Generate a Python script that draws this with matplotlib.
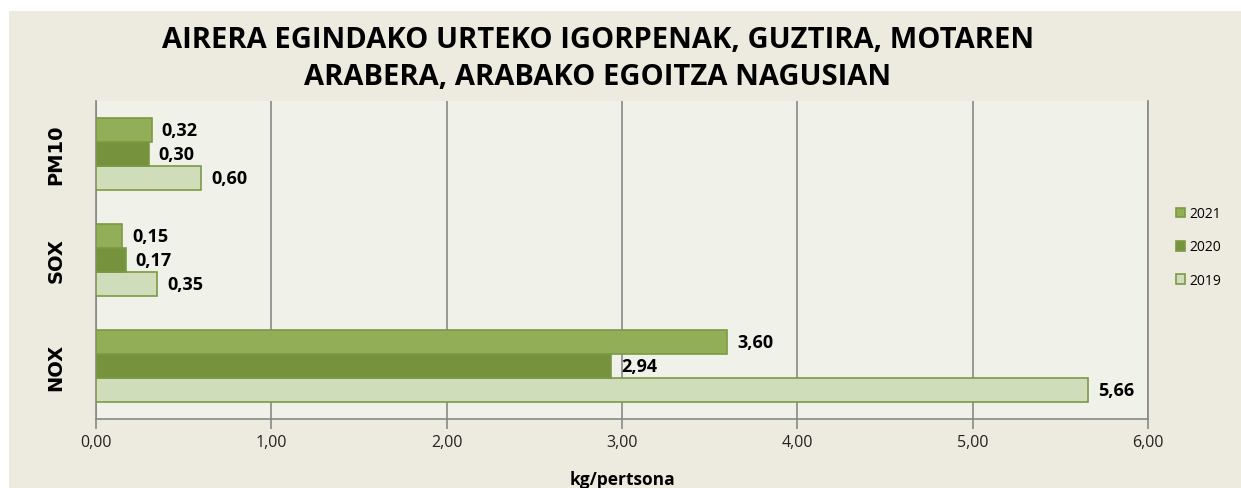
import matplotlib
matplotlib.use("Agg")
import matplotlib.pyplot as plt
from matplotlib.patches import Rectangle
import numpy as np

categories = ["NOX", "SOX", "PM10"]
years = ["2019", "2020", "2021"]
values = {
    "2019": [5.66, 0.35, 0.60],
    "2020": [2.94, 0.17, 0.30],
    "2021": [3.60, 0.15, 0.32],
}
colors = {"2019": "#D0DDBA", "2020": "#76923C", "2021": "#92AE57"}
edge = "#7A9A45"
xticks = [0, 1, 2, 3, 4, 5, 6]
title = "AIRERA EGINDAKO URTEKO IGORPENAK, GUZTIRA, MOTAREN\nARABERA, ARABAKO EGOITZA NAGUSIAN"
xlabel = "kg/pertsona"

W, H = 1241, 489
fig = plt.figure(figsize=(W / 100, H / 100), dpi=100)
fig.patch.set_facecolor("white")
fig.patches.append(Rectangle((9 / W, 0), 1 - 9 / W, 1 - 12 / H, transform=fig.transFigure,
                             facecolor="#EDEAE0", edgecolor="none", zorder=-10))

ax = fig.add_axes([96 / W, 1 - 420 / H, (1148 - 96) / W, (420 - 102) / H])
ax.set_facecolor("#F0F2EA")

h = 0.226
offsets = {"2019": -h, "2020": 0.0, "2021": h}
y = np.arange(len(categories))
for yr in years:
    bars = ax.barh(y + offsets[yr], values[yr], height=h, color=colors[yr],
                   edgecolor=edge, linewidth=1.2, zorder=3, label=yr)
    for b, v in zip(bars, values[yr]):
        ax.annotate(f"{v:.2f}".replace(".", ","), (v, b.get_y() + b.get_height() / 2),
                    xytext=(7, 0), textcoords="offset points", va="center", ha="left",
                    fontsize=13, fontweight="bold", color="black", family="Open Sans")

ax.set_xlim(0, 6)
ax.set_ylim(-0.5, 2.5)
ax.set_xticks(xticks)
ax.set_xticklabels([f"{t:.2f}".replace(".", ",") for t in xticks], fontsize=11.5,
                   family="Open Sans", color="#222222")
ax.set_yticks(y)
ax.set_yticklabels(categories, rotation=90, va="center", fontsize=14, fontweight="bold",
                   family="DejaVu Sans")
ax.tick_params(axis="y", length=0, pad=22)
ax.tick_params(axis="x", length=7, color="#888888", width=1.2, pad=4)
ax.grid(axis="x", color="#888888", linewidth=1.2, zorder=0)
ax.spines["top"].set_visible(False)
for s in ["left", "bottom", "right"]:
    ax.spines[s].set_color("#888888")
    ax.spines[s].set_linewidth(1.2)

ax.set_xlabel(xlabel, fontsize=12.5, fontweight="bold", family="Open Sans", labelpad=14)

handles, labels = ax.get_legend_handles_labels()
leg = fig.legend(handles[::-1], labels[::-1], loc="center left",
                 bbox_to_anchor=(1163 / W, 1 - 248 / H), frameon=False,
                 handlelength=0.7, handleheight=0.7, handletextpad=0.3,
                 labelspacing=1.3, prop={"family": "Open Sans", "size": 10})

fig.text(0.5 * (163 + 1033) / W, 1 - 59 / H, title, ha="center", va="center",
         fontsize=21, fontweight="bold", family="Open Sans", linespacing=1.4)

fig.savefig("out.png", dpi=100, facecolor=fig.get_facecolor())
